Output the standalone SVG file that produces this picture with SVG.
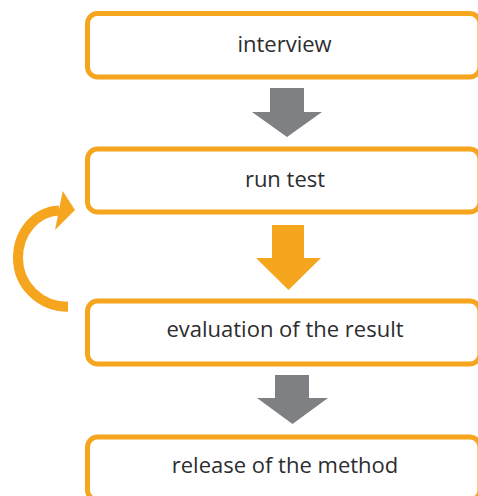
<svg xmlns="http://www.w3.org/2000/svg" width="478" height="496" viewBox="0 0 478 496">
  <style>
    .box { fill: #ffffff; stroke: #F6A51F; stroke-width: 5; }
    .lbl { font-family: "Open Sans", "Liberation Sans", sans-serif; font-size: 22px; fill: #2d2d2f; text-anchor: middle; }
    .gray { fill: #7F8084; }
    .orange { fill: #F6A51F; }
  </style>
  <rect width="478" height="496" fill="#ffffff"/>
  <g id="connectors">
    <polygon class="gray" points="270,88 304,88 304,112 322,112 287,137 252,112 270,112"/>
    <polygon class="orange" points="272,225 304,225 304,258 321,258 288.5,290 256,258 272,258"/>
    <polygon class="gray" points="275,375 309,375 309,398 328,398 292.5,424 257,398 275,398"/>
    <path d="M 68 306.7 C 40 306.7, 18 285, 18 258 C 18 232, 36 211.5, 59 210.5" fill="none" stroke="#F6A51F" stroke-width="10"/>
    <polygon class="orange" points="62.7,191 75,210 55,230"/>
  </g>
  <g id="interview">
    <rect class="box" x="87.5" y="13.5" width="392.5" height="63.5" rx="10"/>
    <text class="lbl" x="284.5" y="52">interview</text>
  </g>
  <g id="run-test">
    <rect class="box" x="87.5" y="149" width="392.5" height="63" rx="10"/>
    <text class="lbl" x="285" y="187">run test</text>
  </g>
  <g id="evaluation">
    <rect class="box" x="87.5" y="301" width="392.5" height="63" rx="10"/>
    <text class="lbl" x="285" y="337">evaluation of the result</text>
  </g>
  <g id="release">
    <rect class="box" x="87.5" y="437" width="392.5" height="63" rx="10"/>
    <text class="lbl" x="285" y="473">release of the method</text>
  </g>
</svg>
